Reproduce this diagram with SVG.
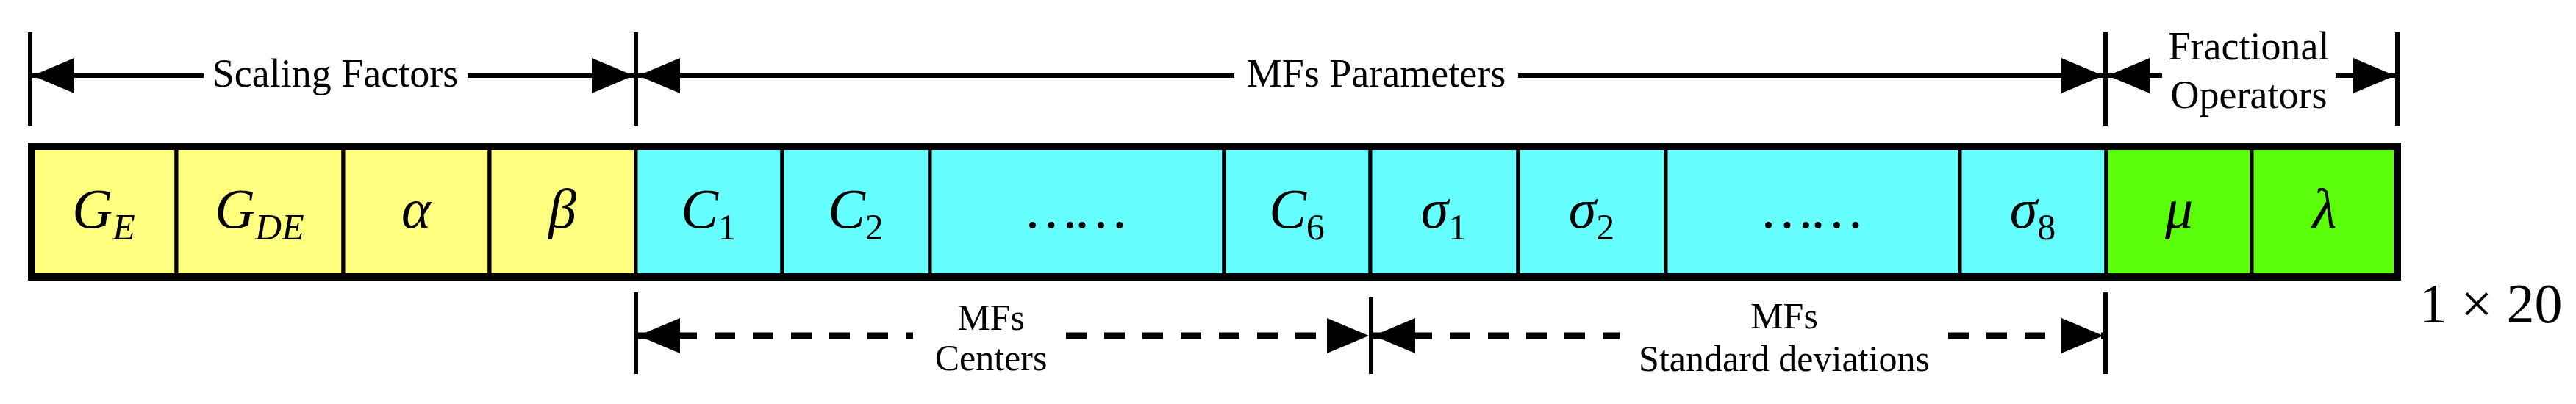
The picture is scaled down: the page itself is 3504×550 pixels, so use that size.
<svg xmlns="http://www.w3.org/2000/svg" width="3504" height="550" viewBox="0 0 3504 550">
<style>
.lbl{font-family:'Liberation Serif','Times New Roman','DejaVu Serif',serif;font-size:54px;fill:#000;text-anchor:middle}
.sm{font-size:50px}
.m{font-family:'Liberation Serif','Times New Roman','DejaVu Serif',serif;font-style:italic;font-size:76px;fill:#000;text-anchor:middle}
.s{font-size:50px}
.y{fill:#FFFF7F}.c{fill:#66FFFF}.g{fill:#5CFF0A}
.cell{stroke:#000;stroke-width:5}
.tick{stroke:#000;stroke-width:6}
.ln{stroke:#000;stroke-width:6;fill:none}
.dash{stroke:#000;stroke-width:9;fill:none;stroke-dasharray:28 24}
</style>
<defs>
<polygon id="ar" points="0,0 -57,-24 -57,24"/>
<polygon id="al" points="0,0 57,-24 57,24"/>
</defs>
<g id="connectors">
<line class="tick" x1="41" y1="44" x2="41" y2="171"/>
<line class="tick" x1="865" y1="44" x2="865" y2="171"/>
<line class="tick" x1="2864" y1="44" x2="2864" y2="171"/>
<line class="tick" x1="3261" y1="44" x2="3261" y2="171"/>
<line class="ln" x1="44" y1="103" x2="277" y2="103"/>
<line class="ln" x1="636" y1="103" x2="862" y2="103"/>
<use href="#al" x="44" y="103"/><use href="#ar" x="862" y="103"/>
<line class="ln" x1="868" y1="103" x2="1679" y2="103"/>
<line class="ln" x1="2065" y1="103" x2="2861" y2="103"/>
<use href="#al" x="868" y="103"/><use href="#ar" x="2861" y="103"/>
<line class="ln" x1="2867" y1="103" x2="2941" y2="103"/>
<line class="ln" x1="3177" y1="103" x2="3258" y2="103"/>
<use href="#al" x="2867" y="103"/><use href="#ar" x="3258" y="103"/>
<line class="tick" x1="865" y1="398" x2="865" y2="509"/>
<line class="tick" x1="1865" y1="405" x2="1865" y2="509"/>
<line class="tick" x1="2864" y1="398" x2="2864" y2="509"/>
<line class="dash" x1="868" y1="457" x2="1242" y2="457"/>
<line class="dash" x1="1450" y1="457" x2="1862" y2="457"/>
<use href="#al" x="868" y="457"/><use href="#ar" x="1862" y="457"/>
<line class="dash" x1="1868" y1="457" x2="2203" y2="457"/>
<line class="dash" x1="2650" y1="457" x2="2861" y2="457"/>
<use href="#al" x="1868" y="457"/><use href="#ar" x="2861" y="457"/>
</g>
<g id="labels">
<text class="lbl" x="456" y="118">Scaling Factors</text>
<text class="lbl" x="1872" y="118">MFs Parameters</text>
<text class="lbl" x="3059" y="81">Fractional</text>
<text class="lbl" x="3059" y="147">Operators</text>
<text class="lbl sm" x="1348" y="449">MFs</text>
<text class="lbl sm" x="1348" y="504">Centers</text>
<text class="lbl sm" x="2427" y="447">MFs</text>
<text class="lbl sm" x="2427" y="505">Standard deviations</text>
<text x="3388" y="439" style="font-family:'Liberation Serif','Times New Roman',serif;font-size:76px;text-anchor:middle">1 × 20</text>
</g>
<g id="vector">
<g id="n-GE"><rect class="cell y" x="43" y="199" width="197" height="178"/><text class="m" x="141" y="310">G<tspan class="s" dy="16">E</tspan></text></g>
<g id="n-GDE"><rect class="cell y" x="240" y="199" width="227" height="178"/><text class="m" x="353" y="310">G<tspan class="s" dy="16">DE</tspan></text></g>
<g id="n-alpha"><rect class="cell y" x="467" y="199" width="199" height="178"/><text class="m" x="566" y="310">α</text></g>
<g id="n-beta"><rect class="cell y" x="666" y="199" width="199" height="178"/><text class="m" x="765" y="310">β</text></g>
<g id="n-C1"><rect class="cell c" x="865" y="199" width="199" height="178"/><text class="m" x="964" y="310">C<tspan class="s" dy="16" font-style="normal">1</tspan></text></g>
<g id="n-C2"><rect class="cell c" x="1064" y="199" width="201" height="178"/><text class="m" x="1164" y="310">C<tspan class="s" dy="16" font-style="normal">2</tspan></text></g>
<g id="n-dots1"><rect class="cell c" x="1265" y="199" width="400" height="178"/><text class="m" x="1465" y="310" font-style="normal">……</text></g>
<g id="n-C6"><rect class="cell c" x="1665" y="199" width="199" height="178"/><text class="m" x="1764" y="310">C<tspan class="s" dy="16" font-style="normal">6</tspan></text></g>
<g id="n-s1"><rect class="cell c" x="1864" y="199" width="201" height="178"/><text class="m" x="1964" y="310">σ<tspan class="s" dy="16" font-style="normal">1</tspan></text></g>
<g id="n-s2"><rect class="cell c" x="2065" y="199" width="201" height="178"/><text class="m" x="2165" y="310">σ<tspan class="s" dy="16" font-style="normal">2</tspan></text></g>
<g id="n-dots2"><rect class="cell c" x="2266" y="199" width="400" height="178"/><text class="m" x="2466" y="310" font-style="normal">……</text></g>
<g id="n-s8"><rect class="cell c" x="2666" y="199" width="199" height="178"/><text class="m" x="2765" y="310">σ<tspan class="s" dy="16" font-style="normal">8</tspan></text></g>
<g id="n-mu"><rect class="cell g" x="2865" y="199" width="198" height="178"/><text class="m" x="2964" y="310">μ</text></g>
<g id="n-lambda"><rect class="cell g" x="3063" y="199" width="198" height="178"/><text class="m" x="3162" y="310">λ</text></g>
<rect x="43" y="199" width="3218" height="178" fill="none" stroke="#000" stroke-width="10"/>
</g>
</svg>
